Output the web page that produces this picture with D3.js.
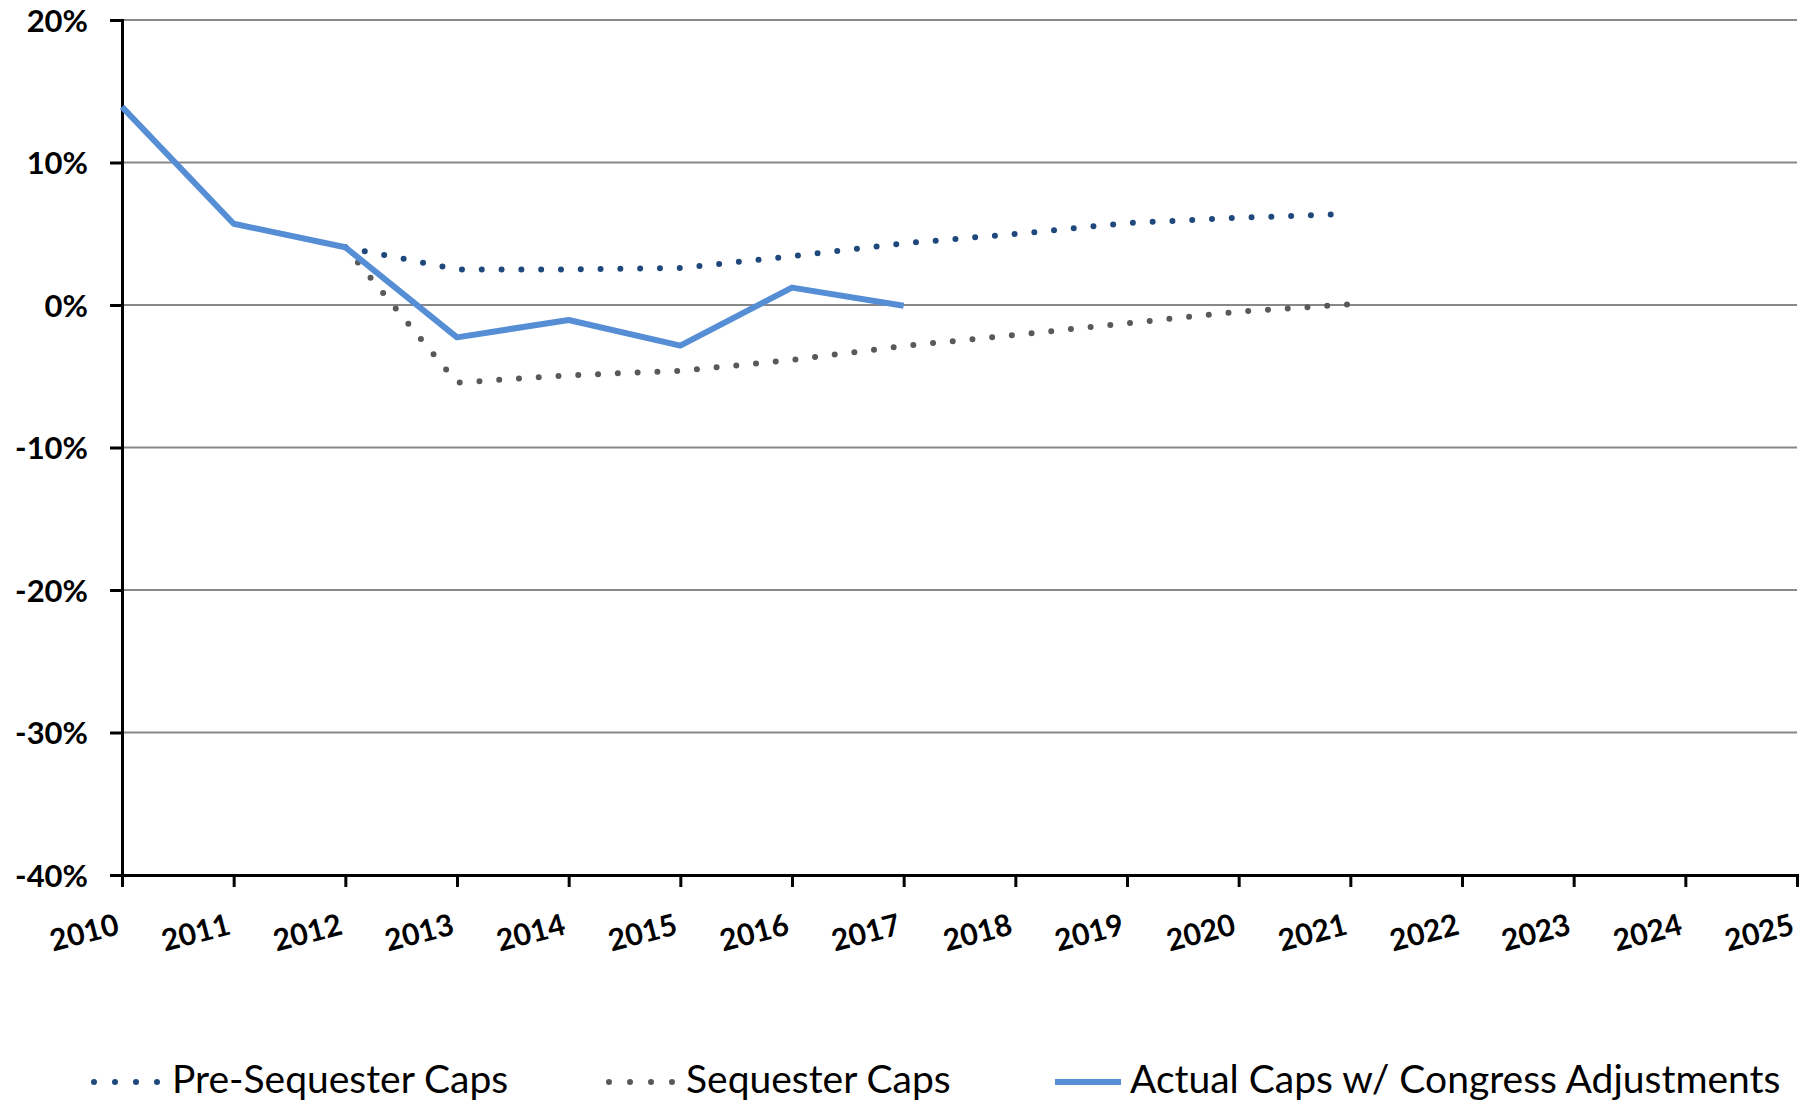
<!DOCTYPE html>
<html><head><meta charset="utf-8">
<script src="https://d3js.org/d3.v7.min.js"></script>
<style>body{margin:0;background:#fff}svg{display:block}</style>
</head><body>
<script>
const years = [2010,2011,2012,2013,2014,2015,2016,2017,2018,2019,2020,2021,2022,2023,2024,2025];
const yTicks = [20,10,0,-10,-20,-30,-40];
const actualYears = [2010,2011,2012,2013,2014,2015,2016,2017];
const actualValues = [13.9,5.7,4.05,-2.27,-1.05,-2.85,1.22,-0.05];
const capYears = [2012,2013,2014,2015,2016,2017,2018,2019,2020,2021];
const preSequester = [4.05,2.5,2.5,2.6,3.42,4.33,4.98,5.75,6.12,6.39];
const sequester = [4.05,-5.45,-4.93,-4.63,-3.85,-2.88,-2.1,-1.28,-0.47,0.05];
const seriesNames = ["Pre-Sequester Caps","Sequester Caps","Actual Caps w/ Congress Adjustments"];

const W=1816,H=1103;
const svg=d3.select("body").append("svg").attr("width",W).attr("height",H);
const x=d3.scaleLinear().domain([2010,2025]).range([122,1797]);
const y=d3.scaleLinear().domain([-40,20]).range([875,20]);
const font="Lato, 'Open Sans', sans-serif";

// gridlines
svg.append("g").selectAll("line").data(yTicks.filter(d=>d>-40)).join("line")
  .attr("x1",x(2010)).attr("x2",x(2025)).attr("y1",d=>y(d)).attr("y2",d=>y(d))
  .attr("stroke","#888").attr("stroke-width",2);

// y axis
const ya=svg.append("g").attr("transform",`translate(${x(2010)},0)`)
  .call(d3.axisLeft(y).tickValues(yTicks).tickSize(12).tickPadding(22).tickFormat(d=>d+"%"));
ya.select(".domain").attr("stroke","#000").attr("stroke-width",3);
ya.selectAll(".tick line").attr("stroke","#000").attr("stroke-width",3);
ya.selectAll(".tick text").attr("font-family",font).attr("font-weight","bold").attr("font-size",31).attr("fill","#000").attr("dy","0.36em");

// x axis
const xa=svg.append("g").attr("transform",`translate(0,${y(-40)})`)
  .call(d3.axisBottom(x).tickValues(years).tickSize(12).tickFormat(d3.format("d")));
xa.select(".domain").attr("stroke","#000").attr("stroke-width",3);
xa.selectAll(".tick line").attr("stroke","#000").attr("stroke-width",3);
xa.selectAll(".tick text").attr("font-family",font).attr("font-weight","bold").attr("font-size",30).attr("fill","#000")
  .attr("text-anchor","end").attr("y",0).attr("dy",0)
  .attr("transform","translate(-2,59) rotate(-14.5)");

const line=d3.line().x(d=>x(d[0])).y(d=>y(d[1]));
const dotted=(data,color)=>svg.append("path").datum(data).attr("d",line).attr("fill","none")
  .attr("stroke",color).attr("stroke-width",6).attr("stroke-linecap","round").attr("stroke-dasharray","0 19.8");

dotted(capYears.map((d,i)=>[d,sequester[i]]),"#595959");
dotted(capYears.map((d,i)=>[d,preSequester[i]]),"#1F497D");
svg.append("path").datum(actualYears.map((d,i)=>[d,actualValues[i]])).attr("d",line).attr("fill","none")
  .attr("stroke","#558ED5").attr("stroke-width",6).attr("stroke-linejoin","round");

// legend
const ly=1082;
const leg=[{x1:94,x2:157.5,c:"#1F497D",dot:true,tx:172},{x1:609,x2:672.5,c:"#595959",dot:true,tx:686},{x1:1055,x2:1121,c:"#558ED5",dot:false,tx:1130}];
leg.forEach((l,i)=>{
  const p=svg.append("line").attr("x1",l.x1).attr("x2",l.x2).attr("y1",ly).attr("y2",ly)
    .attr("stroke",l.c).attr("stroke-width",6);
  if(l.dot)p.attr("stroke-linecap","round").attr("stroke-dasharray","0 21");
  svg.append("text").attr("x",l.tx).attr("y",1093).attr("font-family",font)
    .attr("font-size",39).attr("fill","#000").text(seriesNames[i]);
});
</script>
</body></html>
